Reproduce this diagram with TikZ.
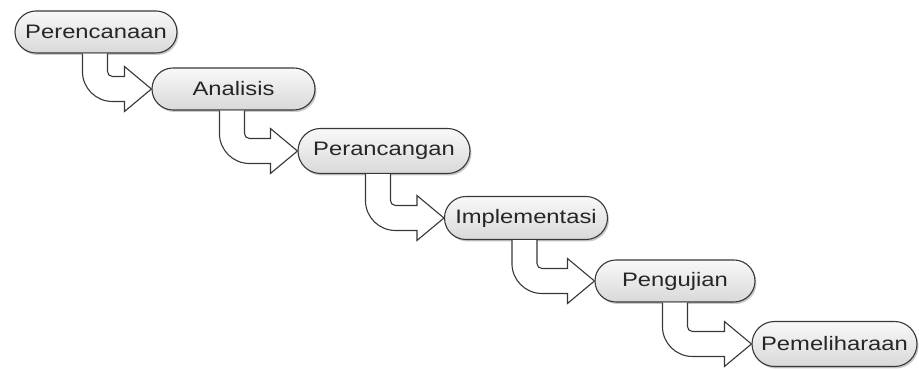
\documentclass[tikz,border=0pt]{standalone}
\usepackage{fontspec}
\setmainfont{Liberation Sans}
\usepackage{graphicx}
\usetikzlibrary{calc,shadows}

% horizontally widened label text
\newcommand\widelabel[1]{\scalebox{1.22}[1]{#1}}

% bent block arrow from the bottom of one phase to the left end of the next
\newcommand\phasearrow[2]{%
  \draw[flowarrow] let \p1=(#1.south west), \p2=(#2.west) in
    (\x1+68pt, \y1)
    -- (\x1+68pt, \y2-12.5pt+30pt)
    arc[start angle=180, end angle=270, radius=30pt]
    -- (\x2-27pt, \y2-12.5pt)
    -- (\x2-27pt, \y2-22.5pt)
    -- (\p2)
    -- (\x2-27pt, \y2+22.5pt)
    -- (\x2-27pt, \y2+12.5pt)
    -- (\x1+68pt+25pt+5pt, \y2+12.5pt)
    arc[start angle=270, end angle=180, radius=5pt]
    -- (\x1+68pt+25pt, \y1);
}

\tikzset{
  phase/.style={
    rectangle, draw=black!78, line width=1.1pt,
    top color=gray!5, bottom color=gray!30,
    text=black!85, inner sep=0pt,
    font=\fontsize{19.5}{23}\selectfont,
    drop shadow={shadow xshift=1.5pt, shadow yshift=-2pt, opacity=0.35, fill=black!60}
  },
  flowarrow/.style={
    draw=black!78, fill=white, line width=1.1pt, line join=miter
  }
}

\begin{document}
\begin{tikzpicture}[x=1pt, y=1pt]
  \useasboundingbox[fill=white] (0,0) rectangle (919,369);

  \node[phase, minimum width=162pt, minimum height=42pt, rounded corners=21pt]
    (plan) at (96,337) {\widelabel{Perencanaan}};
  \node[phase, minimum width=163pt, minimum height=42pt, rounded corners=21pt]
    (analysis) at (233.5,280) {\widelabel{Analisis}};
  \node[phase, minimum width=172pt, minimum height=45pt, rounded corners=22.5pt]
    (design) at (384,218) {\widelabel{Perancangan}};
  \node[phase, minimum width=163pt, minimum height=43pt, rounded corners=21.5pt]
    (impl) at (526,151) {\widelabel{Implementasi}};
  \node[phase, minimum width=160pt, minimum height=42pt, rounded corners=21pt]
    (test) at (675,88) {\widelabel{Pengujian}};
  \node[phase, minimum width=165pt, minimum height=45pt, rounded corners=22.5pt]
    (maint) at (834.5,25) {\widelabel{Pemeliharaan}};

  \phasearrow{plan}{analysis}
  \phasearrow{analysis}{design}
  \phasearrow{design}{impl}
  \phasearrow{impl}{test}
  \phasearrow{test}{maint}
\end{tikzpicture}
\end{document}
